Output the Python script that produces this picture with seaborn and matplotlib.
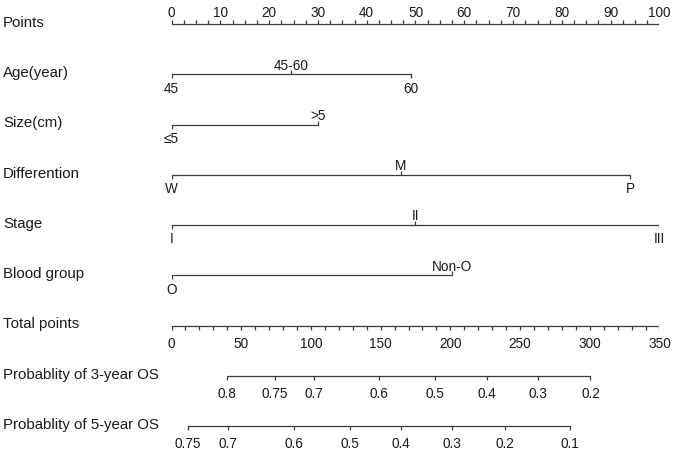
"""
Nomogram for 3- and 5-year overall survival.
"""

import numpy as np
import pandas as pd
import matplotlib.pyplot as plt
import matplotlib.transforms as mtransforms
import seaborn as sns

# ---- data ----
row_labels = ["Points", "Age(year)", "Size(cm)", "Differention", "Stage",
              "Blood group", "Total points", "Probablity of 3-year OS",
              "Probablity of 5-year OS"]

points_major = np.arange(0, 101, 10)
points_minor = np.arange(0, 100.1, 2.5)

age_levels = ["45", "45-60", "60"]
age_points = [0, 24.5, 49]
size_levels = ["≤5", ">5"]
size_points = [0, 30]
diff_levels = ["W", "M", "P"]
diff_points = [0, 47, 94]
stage_levels = ["I", "II", "III"]
stage_points = [0, 50, 100]
blood_levels = ["O", "Non-O"]
blood_points = [0, 57.5]

total_max = 350
total_major = np.arange(0, 351, 50)
total_minor = np.arange(0, 351, 10)

os3_labels = ["0.8", "0.75", "0.7", "0.6", "0.5", "0.4", "0.3", "0.2"]
os3_total = [40, 74, 102, 149, 189, 226.5, 262.5, 300.5]
os5_labels = ["0.75", "0.7", "0.6", "0.5", "0.4", "0.3", "0.2", "0.1"]
os5_total = [12, 40.5, 87.5, 128, 164.5, 201, 239, 286]

# ---- style ----
sns.set_style("white")
plt.rcParams['font.family'] = ['Liberation Sans', 'DejaVu Sans']
LINE = '#3a3a3a'
TEXT = '#1a1a1a'
LW = 0.9
TICK = 4
FS_ROW = 10.8
FS_TICK = 9.8

fig = plt.figure(figsize=(6.75, 4.52), dpi=100)
ax = fig.add_axes([171.5 / 675, 0, 488 / 675, 1])
ax.set_xlim(0, 100)
ax.set_ylim(452, 0)
ax.axis('off')

row_y = [25 + 50.25 * i for i in range(len(row_labels))]
label_tf = mtransforms.blended_transform_factory(fig.transFigure, ax.transData)


def hline(x0, x1, y):
    seg = pd.DataFrame({'x': [x0, x1], 'y': [y, y]})
    sns.lineplot(data=seg, x='x', y='y', ax=ax, color=LINE, lw=LW,
                 legend=False, estimator=None, sort=False)


def ticks(xs, y, up):
    y2 = y - TICK if up else y + TICK
    ax.vlines(xs, y, y2, color=LINE, lw=LW)


def scale_axis(pos, labels, y, up, off):
    hline(min(pos), max(pos), y)
    ticks(pos, y, up)
    for x, s in zip(pos, labels):
        ax.text(x, y - off if up else y + off, s, ha='center', va='baseline',
                fontsize=FS_TICK, color=TEXT)


def variable(pos, levels, y):
    hline(min(pos), max(pos), y)
    for i, (x, s) in enumerate(zip(pos, levels)):
        up = i % 2 == 1
        ticks([x], y, up)
        ax.text(x, y - 5.5 if up else y + 17.5, s, ha='center',
                va='baseline', fontsize=FS_TICK, color=TEXT)


# row labels
for lab, y in zip(row_labels, row_y):
    ax.text(3 / 675, y + 2, lab, transform=label_tf, ha='left',
            va='baseline', fontsize=FS_ROW, color=TEXT)

# points scale
hline(0, 100, row_y[0])
ticks(points_minor, row_y[0], True)
for v in points_major:
    ax.text(v, row_y[0] - 8, f"{v:g}", ha='center', va='baseline',
            fontsize=FS_TICK, color=TEXT)

variable(age_points, age_levels, row_y[1])
variable(size_points, size_levels, row_y[2])
variable(diff_points, diff_levels, row_y[3])
variable(stage_points, stage_levels, row_y[4])
variable(blood_points, blood_levels, row_y[5])

# total points scale
to_pts = 100 / total_max
hline(0, 100, row_y[6])
ticks(total_minor * to_pts, row_y[6], False)
for v in total_major:
    ax.text(v * to_pts, row_y[6] + 22, f"{v:g}", ha='center', va='baseline',
            fontsize=FS_TICK, color=TEXT)

# survival probability scales
scale_axis([t * to_pts for t in os3_total], os3_labels, row_y[7], False, 21)
scale_axis([t * to_pts for t in os5_total], os5_labels, row_y[8], False, 21.5)

fig.savefig('out.png', dpi=100, facecolor='white')
